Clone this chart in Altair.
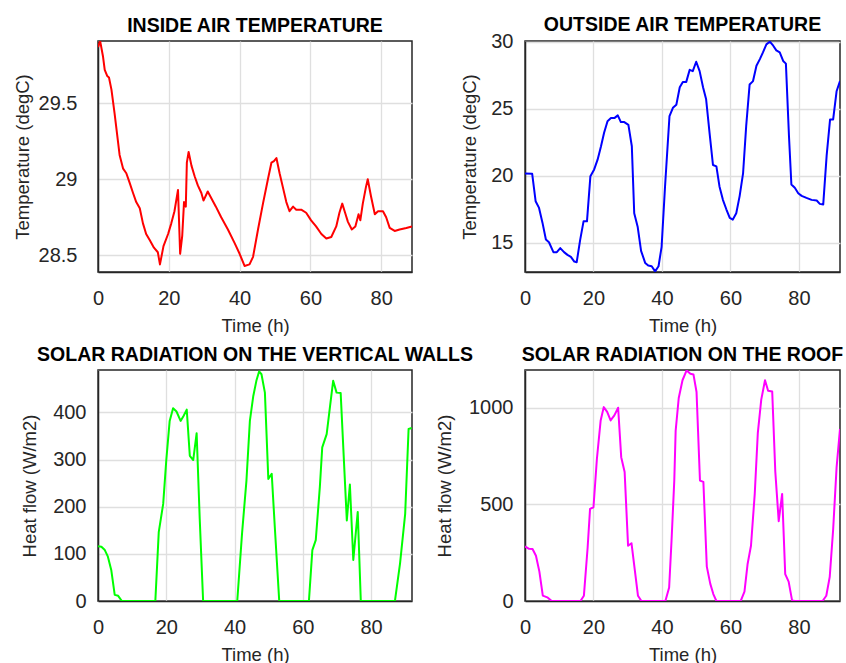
import altair as alt
import pandas as pd

FONT = "Liberation Sans"

# ---------------- data ----------------
# Inside air temperature (degC)
t_inside = [0, 0.6, 1.4, 1.9, 2.6, 3.1, 3.8, 4.7, 6.1, 7.1, 8.0, 8.9, 9.9, 10.8, 11.8, 12.7,
            13.6, 14.6, 15.8, 16.9, 17.5, 18.5, 19.8, 20.7, 21.6, 22.6, 23.2, 23.8, 24.3, 24.8,
            25.1, 25.6, 26.4, 27.3, 28.2, 29.2, 29.8, 31.0, 31.9, 33.3, 34.8, 36.7, 38.6, 40.0,
            41.4, 42.8, 43.8, 45.2, 46.6, 48.0, 49.0, 49.7, 50.4, 51.3, 52.2, 53.2, 54.1, 55.1,
            56.0, 57.4, 58.8, 60.2, 61.6, 63.1, 64.5, 65.9, 67.3, 68.2, 69.0, 69.8, 70.6, 71.7,
            72.7, 73.6, 74.1, 74.8, 75.7, 76.2, 77.1, 78.2, 79.1, 80.5, 81.4, 82.4, 83.8, 85.2,
            87.1, 88.7]
T_inside = [29.87, 29.91, 29.81, 29.72, 29.68, 29.67, 29.59, 29.43, 29.16, 29.07, 29.04, 28.98,
            28.91, 28.85, 28.81, 28.71, 28.64, 28.60, 28.55, 28.52, 28.44, 28.56, 28.64, 28.71,
            28.79, 28.93, 28.51, 28.63, 28.85, 28.82, 29.11, 29.18, 29.09, 29.02, 28.96, 28.91,
            28.86, 28.92, 28.88, 28.82, 28.75, 28.67, 28.58, 28.51, 28.43, 28.44, 28.49, 28.67,
            28.84, 29.00, 29.11, 29.12, 29.14, 29.04, 28.95, 28.85, 28.79, 28.82, 28.80, 28.80,
            28.78, 28.73, 28.69, 28.64, 28.61, 28.62, 28.69, 28.78, 28.84, 28.78, 28.72, 28.67,
            28.69, 28.77, 28.73, 28.84, 28.95, 29.00, 28.89, 28.77, 28.79, 28.79, 28.75, 28.68,
            28.66, 28.67, 28.68, 28.69]

# Outside air temperature (degC)
t_outside = [0, 2.1, 3.1, 4.1, 5.1, 6.1, 7.0, 8.3, 9.3, 10.3, 11.4, 12.4, 13.4, 14.4, 15.1, 16.1,
             17.1, 18.1, 19.1, 20.2, 21.2, 22.2, 23.1, 24.1, 25.1, 26.1, 27.1, 28.0, 29.0, 30.2,
             31.2, 31.9, 32.9, 33.9, 35.1, 36.0, 37.0, 38.0, 39.0, 39.9, 40.9, 42.2, 43.2, 44.2,
             45.2, 46.1, 47.1, 48.1, 49.0, 50.0, 51.0, 52.0, 52.9, 53.9, 54.9, 55.9, 56.8, 57.8,
             58.8, 59.8, 60.7, 61.7, 62.7, 63.7, 64.6, 65.6, 66.6, 67.6, 68.6, 69.5, 70.5, 71.5,
             72.5, 73.4, 74.4, 75.4, 76.2, 77.1, 77.8, 78.8, 79.8, 80.8, 82.2, 83.7, 85.2, 86.1,
             87.1, 88.1, 89.1, 90.0, 91.0, 92.0]
T_outside = [20.17, 20.14, 18.1, 17.6, 16.5, 15.24, 15.04, 14.3, 14.3, 14.6, 14.3, 14.1, 13.95,
             13.6, 13.55, 15.2, 16.6, 16.6, 19.97, 20.47, 21.2, 22.2, 23.2, 24.07, 24.3, 24.3,
             24.5, 24.0, 24.0, 23.8, 22.2, 17.2, 16.2, 14.4, 13.5, 13.3, 13.25, 12.87, 13.25,
             14.7, 19.2, 24.45, 25.07, 25.3, 26.6, 27.0, 27.0, 27.9, 27.8, 28.5, 27.8, 26.6,
             25.7, 23.2, 20.8, 20.7, 19.2, 18.2, 17.5, 16.86, 16.73, 17.2, 18.5, 20.2, 23.7,
             26.8, 27.06, 28.2, 28.7, 29.2, 29.8, 30.0, 29.7, 29.35, 29.2, 28.56, 28.36, 22.95,
             19.35, 19.1, 18.7, 18.5, 18.35, 18.2, 18.15, 17.9, 17.85, 21.5, 24.2, 24.2, 26.3,
             27.06]

# Solar radiation on the vertical walls (W/m2)
t_walls = [0, 1.0, 2.0, 2.9, 3.9, 4.9, 5.9, 7.0, 16.8, 17.8, 19.1, 20.0, 21.0, 22.0, 23.0, 24.2,
           25.1, 26.0, 26.9, 27.9, 28.9, 29.8, 30.8, 40.8, 42.2, 43.5, 44.5, 45.5, 46.4, 47.2,
           47.9, 48.9, 49.9, 50.9, 51.8, 53.1, 61.8, 62.8, 63.8, 65.0, 65.7, 67.0, 68.0, 68.9,
           69.9, 71.1, 72.9, 73.8, 74.8, 76.1, 77.0, 87.0, 88.5, 90.0, 91.0, 91.9]
q_walls = [116, 115, 108, 94, 65, 13, 11, 0, 0, 146, 206, 298, 382, 409, 402, 382, 393, 406, 308,
           299, 356, 175, 0, 0, 143, 256, 382, 435, 467, 487, 481, 442, 259, 270, 157, 0, 0, 108,
           129, 242, 326, 354, 414, 467, 442, 441, 171, 247, 87, 189, 0, 0, 80, 185, 365, 367]

# Solar radiation on the roof (W/m2)
t_roof = [0, 1.2, 2.2, 3.2, 4.2, 5.2, 6.5, 7.8, 16.2, 17.2, 18.3, 19.0, 20.0, 21.0, 22.1, 23.0,
          24.0, 25.0, 26.1, 27.2, 28.1, 29.1, 30.1, 31.1, 32.0, 33.0, 34.0, 41.0, 42.1, 42.8,
          43.6, 44.0, 44.9, 46.0, 47.2, 48.3, 49.2, 50.1, 51.1, 52.1, 53.1, 54.1, 55.0, 55.9,
          63.0, 64.1, 65.0, 66.0, 67.1, 68.0, 69.0, 70.1, 71.0, 72.2, 73.1, 74.1, 75.1, 76.0,
          77.0, 78.0, 78.8, 86.9, 88.0, 89.0, 90.0, 91.0, 92.0]
q_roof = [282, 270, 269, 234, 152, 28, 19, 0, 0, 27, 278, 477, 485, 736, 934, 1003, 978, 934,
          960, 1000, 744, 667, 286, 299, 170, 27, 0, 0, 70, 313, 623, 880, 1050, 1142, 1193,
          1176, 1172, 1081, 623, 616, 178, 90, 36, 0, 0, 48, 190, 286, 554, 870, 1042, 1142,
          1088, 1084, 670, 413, 554, 139, 100, 3, 0, 0, 27, 125, 370, 690, 890]

x_ticks = [0, 20, 40, 60, 80]

LABEL_EXPR = "'' + datum.value"


def panel(t, v, color, title, ytitle, xdom, ydom, yvals, label_pad, title_x, title_off, w):
    df = pd.DataFrame({"t": t, "v": v})
    return (
        alt.Chart(
            df,
            title=alt.TitleParams(
                title, anchor="middle", frame="group", baseline="alphabetic", offset=title_off,
                fontSize=19.5, fontWeight="bold", font=FONT, color="#000000",
            ),
        )
        .mark_line(color=color, strokeWidth=2, clip=True, strokeJoin="round")
        .encode(
            x=alt.X(
                "t:Q",
                scale=alt.Scale(domain=xdom, nice=False, zero=False),
                axis=alt.Axis(
                    title="Time (h)", values=x_ticks, labelExpr=LABEL_EXPR, labelPadding=16,
                    titleY=59, titleBaseline="alphabetic",
                ),
            ),
            y=alt.Y(
                "v:Q",
                scale=alt.Scale(domain=ydom, nice=False, zero=False),
                axis=alt.Axis(
                    title=ytitle, values=yvals, labelExpr=LABEL_EXPR, labelPadding=label_pad,
                    titleX=title_x, titleBaseline="alphabetic", titleAngle=270,
                ),
            ),
        )
        .properties(width=w, height=231)
    )


p1 = panel(t_inside, T_inside, "#ff0000", "INSIDE AIR TEMPERATURE", "Temperature (degC)",
           [0, 88.7], [28.39, 29.91], [28.5, 29, 29.5], 21, -70, -10, 314)
p2 = panel(t_outside, T_outside, "#0000ff", "OUTSIDE AIR TEMPERATURE", "Temperature (degC)",
           [0, 92], [12.82, 30.05], [15, 20, 25, 30], 12, -50, -19, 315)
p3 = panel(t_walls, q_walls, "#00ff00", "SOLAR RADIATION ON THE VERTICAL WALLS", "Heat flow (W/m2)",
           [0, 92], [0, 490], [0, 100, 200, 300, 400], 12, -63, -10, 314)
p4 = panel(t_roof, q_roof, "#ff00ff", "SOLAR RADIATION ON THE ROOF", "Heat flow (W/m2)",
           [0, 92], [0, 1195], [0, 500, 1000], 12, -75, -10, 315)

chart = (
    alt.concat(p1, p2, p3, p4, columns=2, spacing={"row": 98, "column": 113}, bounds="flush")
    .properties(padding={"left": 12, "top": 14, "right": 1, "bottom": 0}, background="#ffffff")
    .configure_view(stroke="#262626", strokeWidth=1.5)
    .configure_axis(
        domain=True, domainColor="#262626", domainWidth=1.5,
        grid=True, gridColor="#dfdfdf", gridWidth=1.3,
        ticks=False, tickSize=0, labelFlush=False,
        labelFont=FONT, labelFontSize=20, labelColor="#262626",
        titleFont=FONT, titleFontSize=18.5, titleFontWeight="normal", titleColor="#262626",
    )
)

chart.save("out.html", embed_options={"renderer": "svg", "actions": False})
